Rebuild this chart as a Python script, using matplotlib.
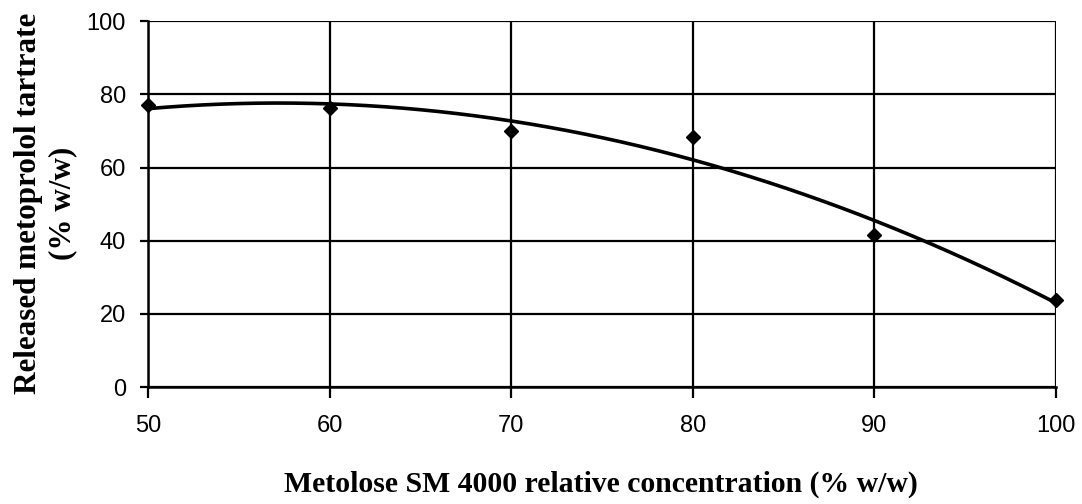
import numpy as np
import matplotlib
matplotlib.use("Agg")
import matplotlib.pyplot as plt

# data
conc = [50, 60, 70, 80, 90, 100]
released = [77.0, 76.2, 70.0, 68.3, 41.5, 23.8]
xticks = [50, 60, 70, 80, 90, 100]
yticks = [0, 20, 40, 60, 80, 100]

fig = plt.figure(figsize=(10.82, 5.04), dpi=100)
ax = fig.add_axes([0.1368, 0.232, 0.8392, 0.726])

# quadratic trendline (as Excel draws it)
coef = np.polyfit(conc, released, 2)
xs = np.linspace(50, 100, 300)
ax.plot(xs, np.polyval(coef, xs), color="black", lw=2.6, zorder=3)
ax.plot(conc, released, "D", color="black", ms=7, zorder=4, clip_on=False)

ax.set_xlim(50, 100)
ax.set_ylim(0, 100)
ax.set_xticks(xticks)
ax.set_yticks(yticks)
ax.grid(True, color="black", lw=1.6)
for s in ax.spines.values():
    s.set_visible(False)
ax.spines["left"].set_visible(True)
ax.spines["bottom"].set_visible(True)
ax.spines["left"].set_linewidth(1.8)
ax.spines["bottom"].set_linewidth(1.8)
ax.tick_params(axis="x", direction="out", length=8, width=1.6, pad=12)
ax.tick_params(axis="y", direction="out", length=6, width=1.6, pad=10)
for lab in ax.get_xticklabels() + ax.get_yticklabels():
    lab.set_fontfamily("Liberation Sans")
    lab.set_fontsize(17)

fig.text(0.555, 0.04, "Metolose SM 4000 relative concentration (% w/w)",
         ha="center", va="center", family="Liberation Serif",
         weight="bold", fontsize=21.4)
fig.text(0.026, 0.597, "Released metoprolol tartrate",
         ha="center", va="center", rotation=90, family="Liberation Serif",
         weight="bold", fontsize=22.4)
fig.text(0.058, 0.597, "(% w/w)",
         ha="center", va="center", rotation=90, family="Liberation Serif",
         weight="bold", fontsize=22.4)

fig.savefig("out.png", dpi=100)
